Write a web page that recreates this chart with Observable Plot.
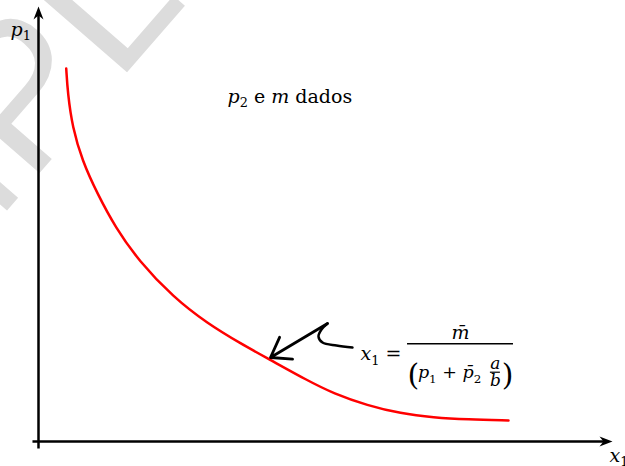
<!DOCTYPE html>
<html>
<head>
<meta charset="utf-8">
<script src="https://cdn.jsdelivr.net/npm/d3@7"></script>
<script src="https://cdn.jsdelivr.net/npm/@observablehq/plot@0.6"></script>
<style>
  html, body { margin: 0; padding: 0; background: #fff; overflow: hidden; }
</style>
</head>
<body>
<div id="chart"></div>
<script>
// Demand curve (red) (arbitrary units)
const curveX = [0.483, 0.510, 0.592, 0.761, 1.023, 1.341, 1.742, 2.352, 2.944, 3.519, 4.042, 4.686, 5.139, 5.732, 6.307, 6.882, 7.474, 8.188];
const curveY = [8.555, 7.982, 7.202, 6.445, 5.688, 4.908, 4.151, 3.303, 2.706, 2.248, 1.870, 1.399, 1.101, 0.826, 0.642, 0.550, 0.505, 0.482];

// Axis arrows: [x1, y1, x2, y2] and tips
const axisSegX = [-0.105, 0, 9.85, 0];
const axisSegY = [0, -0.16, 0, 9.80];
const axisTipX = [10.0, 0];
const axisTipY = [0, 9.977];

// Annotation squiggle and arrow
const squiggleX = [5.470, 5.192, 4.948, 4.878, 4.930, 5.035];
const squiggleY = [2.156, 2.202, 2.271, 2.408, 2.569, 2.706];
const arrowSeg = [5.035, 2.706, 4.042, 1.927];

// Text labels: markup *italic*, _x subscript
const labelText = ["*p*_1", "*x*_1", "*p*_2 e *m* dados"];
const labelX = [-0.488, 9.948, 3.293];
const labelY = [9.31, -0.459, 7.775];

// Formula x1 = m̄ / (p1 + p̄2 a/b)
const formulaText = ["*x*_1 =", "*m\u0304*", "*p*_1 + *p\u0304*_2", "*a*", "*b*"];
const formulaX = [5.610, 7.352, 6.610, 7.960, 7.960];
const formulaY = [1.858, 2.362, 1.445, 1.674, 1.284];
const formulaAnchor = ["start", "middle", "start", "middle", "middle"];
const formulaSize = [19, 19, 17.5, 17, 17];
const parenText = ["(", ")"];
const parenX = [6.429, 8.275];
const parenY = [1.300, 1.300];
const parenAnchor = ["start", "end"];
const barMain = [6.429, 8.275, 2.241];
const barSmall = [7.873, 8.047, 1.589];

// Watermark
const watermarkText = "SAMPLE";
const watermarkPos = [-5.122, -1.628];

const curve = curveX.map((x, i) => ({x, y: curveY[i]}));
const squiggle = squiggleX.map((x, i) => ({x, y: squiggleY[i]}));
const labels = labelText.map((t, i) => ({t, x: labelX[i], y: labelY[i]}));
const formula = formulaText.map((t, i) => ({t, x: formulaX[i], y: formulaY[i], a: formulaAnchor[i], s: formulaSize[i]}));
const parens = parenText.map((t, i) => ({t, x: parenX[i], y: parenY[i], a: parenAnchor[i]}));

// Stealth arrowhead symbol, tip at origin, pointing up
const stealth = {
  draw(context, size) {
    const r = Math.sqrt(size / Math.PI);
    const L = 2.6 * r, w = r;
    context.moveTo(0, 0);
    context.lineTo(w, L);
    context.lineTo(0, L * 0.7);
    context.lineTo(-w, L);
    context.closePath();
  }
};

const serif = "DejaVu Serif";
const textOpts = {x: "x", y: "y", text: "t", lineAnchor: "bottom", fontFamily: serif, fill: "black"};

const chart = Plot.plot({
  width: 625,
  height: 466,
  marginLeft: 38,
  marginRight: 13,
  marginTop: 5,
  marginBottom: 25,
  x: {domain: [0, 10], axis: null},
  y: {domain: [0, 10], axis: null},
  style: {background: "white"},
  marks: [
    Plot.text([watermarkText], {x: () => watermarkPos[0], y: () => watermarkPos[1], text: d => d, rotate: -49,
      fontSize: 200, fontFamily: "Liberation Sans", fill: "#dcdcdc", textAnchor: "start", lineAnchor: "bottom"}),
    Plot.link([axisSegX, axisSegY], {x1: d => d[0], y1: d => d[1], x2: d => d[2], y2: d => d[3], stroke: "black", strokeWidth: 2.5}),
    Plot.dot([axisTipX], {x: d => d[0], y: d => d[1], symbol: stealth, r: 5, fill: "black", stroke: null, rotate: 90}),
    Plot.dot([axisTipY], {x: d => d[0], y: d => d[1], symbol: stealth, r: 5, fill: "black", stroke: null, rotate: 0}),
    Plot.line(curve, {x: "x", y: "y", curve: "basis", stroke: "#ff0000", strokeWidth: 2.5}),
    Plot.line(squiggle, {x: "x", y: "y", curve: "catmull-rom", stroke: "black", strokeWidth: 2.5}),
    Plot.arrow([arrowSeg], {x1: d => d[0], y1: d => d[1], x2: d => d[2], y2: d => d[3], stroke: "black", strokeWidth: 2.8, headLength: 15, headAngle: 70}),
    Plot.ruleY([barMain], {x1: d => d[0], x2: d => d[1], y: d => d[2], stroke: "black", strokeWidth: 1.6}),
    Plot.ruleY([barSmall], {x1: d => d[0], x2: d => d[1], y: d => d[2], stroke: "black", strokeWidth: 1.2}),
    Plot.text(labels, {...textOpts, textAnchor: "start", fontSize: 19}),
    Plot.text(formula.filter(d => d.a === "start"), {...textOpts, textAnchor: "start", fontSize: "s"}),
    Plot.text(formula.filter(d => d.a === "middle"), {...textOpts, textAnchor: "middle", fontSize: "s"}),
    Plot.text(parens.filter(d => d.a === "start"), {...textOpts, textAnchor: "start", fontSize: 30}),
    Plot.text(parens.filter(d => d.a === "end"), {...textOpts, textAnchor: "end", fontSize: 30})
  ]
});

// Rich text: italic and subscript tspans
function parse(s) {
  const out = [];
  let buf = "", italic = false;
  const flush = () => { if (buf) out.push({t: buf, italic, sub: false}); buf = ""; };
  for (let i = 0; i < s.length; i++) {
    const c = s[i];
    if (c === "*") { flush(); italic = !italic; }
    else if (c === "_") { flush(); out.push({t: s[i + 1], italic: false, sub: true}); i++; }
    else buf += c;
  }
  flush();
  return out;
}
document.getElementById("chart").append(chart);
d3.select(chart).selectAll("text").each(function() {
  const el = d3.select(this);
  const s = this.textContent;
  if (!/[*_]/.test(s)) return;
  const fs = parseFloat(getComputedStyle(this).fontSize) || 19;
  el.text("").attr("xml:space", "preserve").style("white-space", "pre");
  let shifted = false;
  for (const seg of parse(s)) {
    const ts = el.append("tspan").text(seg.t);
    if (seg.italic) ts.attr("font-style", "italic");
    if (seg.sub) {
      ts.attr("font-size", fs * 0.68).attr("dy", fs * 0.25);
      shifted = true;
    } else if (shifted) {
      ts.attr("dy", -fs * 0.25);
      shifted = false;
    }
  }
});
</script>
</body>
</html>
